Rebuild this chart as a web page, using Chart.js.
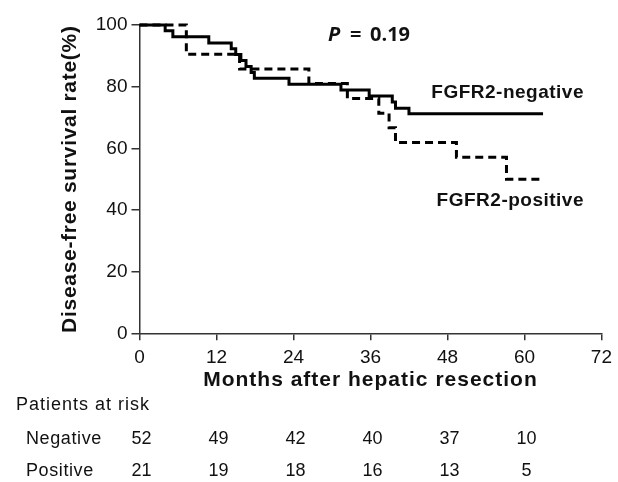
<!DOCTYPE html>
<html>
<head>
<meta charset="utf-8">
<script src="https://cdn.jsdelivr.net/npm/chart.js@4/dist/chart.umd.min.js"></script>
<style>
    body { margin: 0; background: #fff; }
    #kmChart { display: block; }
</style>
</head>
<body>
<canvas id="kmChart" width="618" height="482"></canvas>
<script>
// Kaplan-Meier steps (months, % disease-free)
const negMonths   = [0, 4.0, 5.2, 10.8, 14.3, 15.0, 15.8, 16.6, 17.4, 17.9, 23.3, 31.4, 35.8, 39.4, 39.9, 42.0, 62.9];
const negSurvival = [100, 98.1, 96.2, 94.2, 92.3, 90.4, 88.5, 86.5, 84.6, 82.7, 80.8, 78.9, 77.0, 75.0, 73.0, 71.2, 71.2];
const posMonths   = [0, 7.3, 15.6, 26.4, 32.4, 37.3, 38.9, 39.9, 49.4, 57.2, 62.9];
const posSurvival = [100, 90.5, 85.7, 81.0, 76.2, 71.4, 66.7, 61.9, 57.1, 50.0, 50.0];

const xTicks = [0, 12, 24, 36, 48, 60, 72];
const yTicks = [0, 20, 40, 60, 80, 100];

// patients at risk table
const riskMonths = [0, 12, 24, 36, 48, 60];
const negAtRisk = [52, 49, 42, 40, 37, 10];
const posAtRisk = [21, 19, 18, 16, 13, 5];

const FONT = "'Liberation Sans', Arial, sans-serif";
const INK = '#111';
const AXIS = '#333';

function toPoints(xs, ys) {
    return xs.map((x, i) => ({ x: x, y: ys[i] }));
}

// all the loose text: axis titles, p value, curve labels, risk table
const textPlugin = {
    id: 'kmText',
    afterDraw(chart) {
        const c = chart.ctx;
        const xs = chart.scales.x;
        const area = chart.chartArea;
        c.save();
        c.fillStyle = INK;
        c.textBaseline = 'middle';

        // y title, rotated
        c.save();
        c.translate(70, (area.top + area.bottom) / 2);
        c.rotate(-Math.PI / 2);
        c.textAlign = 'center';
        c.font = 'bold 21px ' + FONT;
        c.letterSpacing = '0.7px';
        c.fillText('Disease-free survival rate(%)', 0, 0);
        c.restore();

        // x title
        c.textAlign = 'center';
        c.font = 'bold 21px ' + FONT;
        c.letterSpacing = '1px';
        c.fillText('Months after hepatic resection', (area.left + area.right) / 2, 380);

        // p value
        c.letterSpacing = '0px';
        c.textAlign = 'left';
        c.font = "italic bold 20px 'Open Sans', sans-serif";
        c.fillText('P', 328, 35);
        c.font = "bold 20px 'Open Sans', sans-serif";
        c.fillText('=', 350, 35);
        c.fillText('0.19', 370, 35);

        // curve labels
        c.textAlign = 'right';
        c.font = 'bold 19px ' + FONT;
        c.letterSpacing = '0.5px';
        c.fillText('FGFR2-negative', 584, 93);
        c.fillText('FGFR2-positive', 584, 201);

        // risk table
        c.textAlign = 'left';
        c.font = '18px ' + FONT;
        c.letterSpacing = '1px';
        c.fillText('Patients at risk', 16, 405);
        c.letterSpacing = '0.6px';
        c.fillText('Negative', 26, 439);
        c.fillText('Positive', 26, 471);
        c.textAlign = 'center';
        c.letterSpacing = '0px';
        riskMonths.forEach((m, i) => {
            const px = xs.getPixelForValue(m) + 2;
            c.fillText(String(negAtRisk[i]), px, 439);
            c.fillText(String(posAtRisk[i]), px, 471);
        });
        c.restore();
    }
};

const ctx = document.getElementById('kmChart').getContext('2d');

new Chart(ctx, {
    type: 'line',
    data: {
        datasets: [
            {
                label: 'FGFR2-negative',
                data: toPoints(negMonths, negSurvival),
                borderColor: '#000',
                borderWidth: 3,
                stepped: 'before',
                pointRadius: 0,
                fill: false,
                clip: false
            },
            {
                label: 'FGFR2-positive',
                data: toPoints(posMonths, posSurvival),
                borderColor: '#000',
                borderWidth: 3,
                borderDash: [8, 5],
                stepped: 'before',
                pointRadius: 0,
                fill: false,
                clip: false
            }
        ]
    },
    options: {
        responsive: false,
        animation: false,
        layout: {
            padding: { left: 0, top: 25, right: 14.6, bottom: 0 }
        },
        plugins: {
            legend: { display: false },
            tooltip: { enabled: false }
        },
        scales: {
            x: {
                type: 'linear',
                min: 0,
                max: 72,
                afterFit(scale) { scale.height = 148.7; },
                afterBuildTicks(scale) { scale.ticks = xTicks.map(v => ({ value: v })); },
                border: { color: AXIS, width: 1.5 },
                grid: { drawOnChartArea: false, color: AXIS, lineWidth: 1.5, tickLength: 7 },
                ticks: {
                    color: INK,
                    padding: 6,
                    maxRotation: 0,
                    font: { family: FONT, size: 19 }
                }
            },
            y: {
                min: 0,
                max: 100,
                afterFit(scale) { scale.width = 139.5; },
                afterBuildTicks(scale) { scale.ticks = yTicks.map(v => ({ value: v })); },
                border: { color: AXIS, width: 1.5 },
                grid: { drawOnChartArea: false, color: AXIS, lineWidth: 1.5, tickLength: 8 },
                ticks: {
                    color: INK,
                    padding: 4,
                    font: { family: FONT, size: 19 }
                }
            }
        }
    },
    plugins: [textPlugin]
});
</script>
</body>
</html>
